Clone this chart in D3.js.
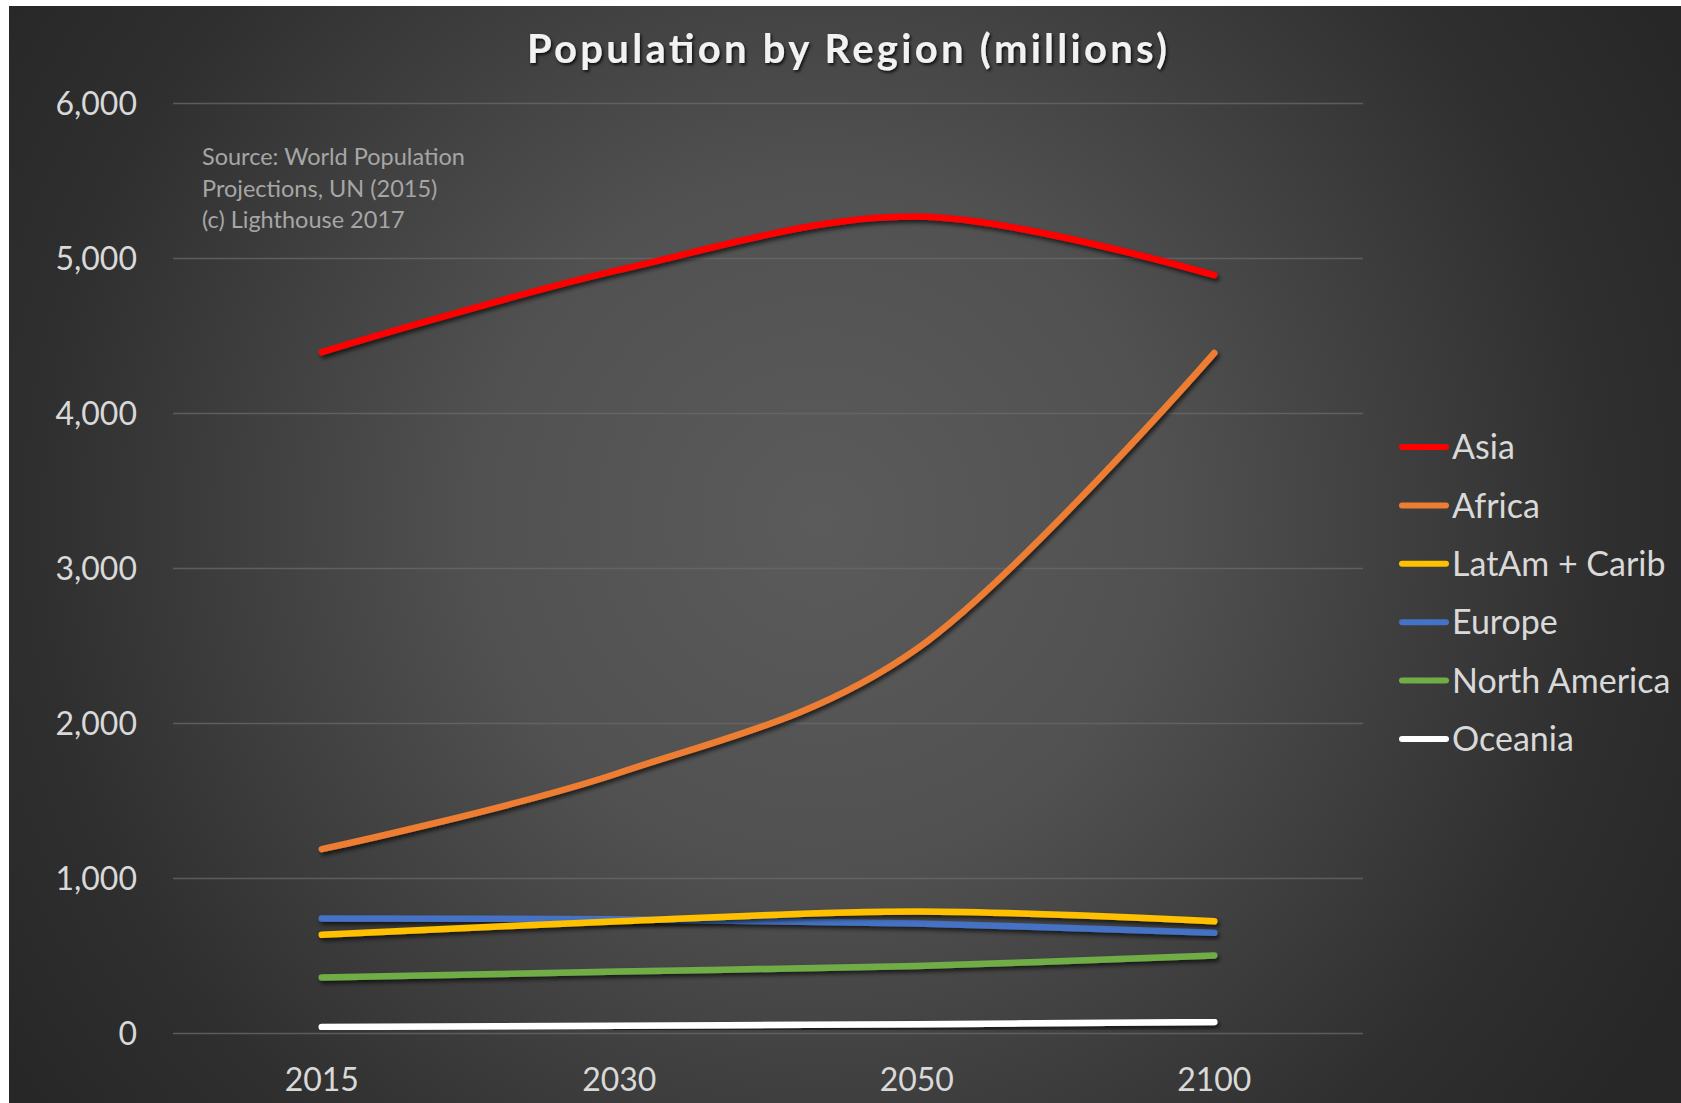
<!DOCTYPE html>
<html>
<head>
<meta charset="utf-8">
<script src="https://cdn.jsdelivr.net/npm/d3@7"></script>
<style>
html,body{margin:0;padding:0;background:#fff;overflow:hidden;}
svg{display:block;}
</style>
</head>
<body>
<svg id="chart" width="1681" height="1103"></svg>
<script>
const categories = ["2015", "2030", "2050", "2100"];
const seriesNames = ["Asia", "Africa", "LatAm + Carib", "Europe", "North America", "Oceania"];
const asia = [4393, 4923, 5267, 4889];
const africa = [1186, 1679, 2478, 4387];
const latam = [634, 721, 784, 721];
const europe = [738, 734, 707, 646];
const northAmerica = [358, 396, 433, 500];
const oceania = [39, 47, 57, 71];
const seriesColors = ["#ff0000", "#ed7d31", "#ffc000", "#4472c4", "#70ad47", "#ffffff"];
const yTicks = [0, 1000, 2000, 3000, 4000, 5000, 6000];
const titleText = "Population by Region (millions)";
const sourceLines = ["Source: World Population", "Projections, UN (2015)", "(c) Lighthouse 2017"];

const seriesValues = [asia, africa, latam, europe, northAmerica, oceania];
const series = seriesNames.map((n, i) => ({name: n, values: seriesValues[i], color: seriesColors[i]}));

const svg = d3.select("#chart");
const defs = svg.append("defs");

const grad = defs.append("radialGradient").attr("id", "bg")
  .attr("gradientUnits", "userSpaceOnUse")
  .attr("cx", 820).attr("cy", 520).attr("r", 980);
grad.append("stop").attr("offset", "0").attr("stop-color", "#5b5b5b");
grad.append("stop").attr("offset", "0.35").attr("stop-color", "#515151");
grad.append("stop").attr("offset", "0.8").attr("stop-color", "#2f2f2f");
grad.append("stop").attr("offset", "1").attr("stop-color", "#272727");

const sh = defs.append("filter").attr("id", "shadow").attr("x", "-10%").attr("y", "-50%").attr("width", "120%").attr("height", "200%");
sh.append("feDropShadow").attr("dx", 2).attr("dy", 3).attr("stdDeviation", 2)
  .attr("flood-color", "#000").attr("flood-opacity", 0.65);

const tsh = defs.append("filter").attr("id", "tshadow");
tsh.append("feDropShadow").attr("dx", 1.5).attr("dy", 2).attr("stdDeviation", 1.5)
  .attr("flood-color", "#000").attr("flood-opacity", 0.8);

svg.append("rect").attr("x", 9).attr("y", 6).attr("width", 1672).attr("height", 1097).attr("fill", "url(#bg)");

const plot = {left: 173, right: 1363, top: 103, bottom: 1033};

const x = d3.scaleBand().domain(categories).range([plot.left, plot.right]).padding(0);
const y = d3.scaleLinear().domain([0, 6000]).range([plot.bottom, plot.top]);
const xc = c => x(c) + x.bandwidth() / 2;

// gridlines + y labels
const yAxis = d3.axisLeft(y).tickValues(yTicks).tickFormat(d3.format(",")).tickSize(-(plot.right - plot.left)).tickPadding(36);
const ya = svg.append("g").attr("transform", `translate(${plot.left},0)`).call(yAxis);
ya.select(".domain").remove();
ya.selectAll(".tick line").attr("stroke", "#6a6a6a").attr("stroke-opacity", 0.75).attr("stroke-width", 1.3);
ya.selectAll(".tick text").attr("fill", "#d9d9d9").attr("font-family", "Lato, 'Open Sans', sans-serif")
  .attr("font-size", 32).attr("dy", "0.36em");

// x labels
const xAxis = d3.axisBottom(x).tickSize(0).tickPadding(0);
const xa = svg.append("g").attr("transform", `translate(0,${plot.bottom})`).call(xAxis);
xa.select(".domain").remove();
xa.selectAll(".tick text").attr("fill", "#d9d9d9").attr("font-family", "Lato, 'Open Sans', sans-serif")
  .attr("font-size", 32).attr("dy", 0).attr("y", 58);

// lines
const line = d3.line().x((d, i) => xc(categories[i])).y(d => y(d)).curve(d3.curveCardinal.tension(0));
svg.append("g").selectAll("path").data(series.slice().reverse()).join("path")
  .attr("d", d => line(d.values))
  .attr("fill", "none").attr("stroke", d => d.color).attr("stroke-width", 6.5)
  .attr("stroke-linecap", "round").attr("stroke-linejoin", "round")
  .attr("filter", "url(#shadow)");

// title
svg.append("text").attr("x", 847).attr("y", 63).attr("text-anchor", "middle")
  .attr("font-family", "Lato, sans-serif").attr("font-weight", "bold").attr("font-size", 40)
  .attr("fill", "#f2f2f2").attr("filter", "url(#tshadow)")
  .attr("textLength", 640).attr("lengthAdjust", "spacing")
  .text(titleText);

// source note
svg.append("g").selectAll("text").data(sourceLines).join("text")
  .attr("x", 202).attr("y", (d, i) => 165 + i * 31.5)
  .attr("font-family", "Lato, sans-serif").attr("font-size", 23.5).attr("fill", "#a6a6a6")
  .text(d => d);

// legend
const leg = svg.append("g");
const ly = d3.scalePoint().domain(seriesNames).range([447, 739]);
const items = leg.selectAll("g").data(series).join("g").attr("transform", d => `translate(0,${ly(d.name)})`);
items.append("line").attr("x1", 1402).attr("x2", 1446).attr("y1", 0).attr("y2", 0)
  .attr("stroke", d => d.color).attr("stroke-width", 6).attr("stroke-linecap", "round");
items.append("text").attr("x", 1452).attr("y", 0).attr("dy", "0.36em")
  .attr("font-family", "Lato, sans-serif").attr("font-size", 34).attr("fill", "#d9d9d9")
  .text(d => d.name);
</script>
</body>
</html>
